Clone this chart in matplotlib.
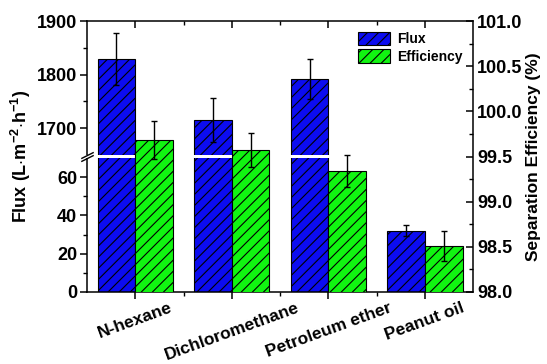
import matplotlib
matplotlib.use("Agg")
import matplotlib.pyplot as plt
import numpy as np
from matplotlib.patches import Rectangle
from matplotlib.ticker import FixedLocator, MultipleLocator, FormatStrFormatter

plt.rcParams['font.family'] = ['Liberation Sans', 'DejaVu Sans']
plt.rcParams['font.weight'] = 'bold'
plt.rcParams['mathtext.fontset'] = 'custom'
plt.rcParams['mathtext.rm'] = 'Liberation Sans:bold'
plt.rcParams['mathtext.bf'] = 'Liberation Sans:bold'
plt.rcParams['hatch.color'] = 'black'
plt.rcParams['hatch.linewidth'] = 0.8

# data
solvents = ["N-hexane", "Dichloromethane", "Petroleum ether", "Peanut oil"]
flux = [1829, 1716, 1792, 32]
flux_err = [48, 41, 38, 3]
efficiency = [99.68, 99.57, 99.34, 98.51]
eff_err = [0.21, 0.19, 0.18, 0.17]

# broken left axis: 0-70 below, 1650-1900 above, squeezed gap between
brk_lo, brk_hi = 70, 1650
_xs = [-1e4, 0, brk_lo, brk_hi, 1900, 1e5]
_ys = [-1e4 * 134 / 70, 0, 134, 137, 271, 271 + (1e5 - 1900) * 0.535]


def fwd(v):
    return np.interp(v, _xs, _ys)


def inv(v):
    return np.interp(v, _ys, _xs)


fig = plt.figure(figsize=(5.47, 3.64), dpi=100)
ax = fig.add_axes([0.159, 0.198, 0.706, 0.744])
ax2 = ax.twinx()

x = np.arange(len(solvents))
w = 0.39
blue = "#0c0cf0"
green = "#11f511"

ax.set_yscale('function', functions=(fwd, inv))
ax.set_ylim(0, 1900)
b1 = ax.bar(x - w / 2, flux, w, color=blue, edgecolor='black', hatch='///',
            linewidth=0.8, label='Flux', zorder=1)
ax.errorbar(x - w / 2, flux, yerr=flux_err, fmt='none', ecolor='black',
            elinewidth=1, capsize=2.5, capthick=1, zorder=2)

# white gap through the flux bars and the left spine
ax.add_patch(Rectangle((-0.02, brk_lo), 1.02, brk_hi - brk_lo, facecolor='white',
                       edgecolor='none', transform=ax.get_yaxis_transform(),
                       clip_on=False, zorder=3))
ax.plot([0, 0], [brk_lo, brk_hi], transform=ax.get_yaxis_transform(), ls='none',
        marker=[(-1, -0.5), (1, 0.5)], markersize=9, markeredgewidth=1,
        color='black', clip_on=False, zorder=4)

ax.yaxis.set_major_locator(FixedLocator([0, 20, 40, 60, 1700, 1800, 1900]))
ax.yaxis.set_minor_locator(FixedLocator([10, 30, 50, 1750, 1850]))
ax.yaxis.set_major_formatter(FormatStrFormatter('%d'))
ax.set_ylabel(r'Flux (L$\cdot$m$^{-2}$$\cdot$h$^{-1}$)', fontsize=13,
              fontweight='bold', labelpad=3)

b2 = ax2.bar(x + w / 2, efficiency, w, color=green, edgecolor='black', hatch='///',
             linewidth=0.8, label='Efficiency', zorder=1)
ax2.errorbar(x + w / 2, efficiency, yerr=eff_err, fmt='none', ecolor='black',
             elinewidth=1, capsize=2.5, capthick=1, zorder=2)
ax2.set_ylim(98.0, 101.0)
ax2.yaxis.set_major_locator(MultipleLocator(0.5))
ax2.yaxis.set_minor_locator(MultipleLocator(0.25))
ax2.yaxis.set_major_formatter(FormatStrFormatter('%.1f'))
ax2.set_ylabel('Separation Efficiency (%)', fontsize=12.5, fontweight='bold',
               labelpad=2)

ax.set_xlim(-0.5, 3.5)
ax.set_xticks(x)
ax.set_xticks([0.5, 1.5, 2.5], minor=True)
ax.set_xticklabels(solvents, rotation=20, ha='center', fontsize=12.5,
                   fontweight='bold')

for s in ax.spines.values():
    s.set_linewidth(1.1)
ax.spines['right'].set_visible(False)
for k in ('left', 'top', 'bottom'):
    ax2.spines[k].set_visible(False)
ax2.spines['right'].set_linewidth(1.1)

ax.tick_params(axis='y', which='major', direction='out', length=5, width=1.1,
               labelsize=13, pad=2)
ax.tick_params(axis='y', which='minor', direction='out', length=3, width=1)
ax.tick_params(axis='x', which='major', direction='out', length=5, width=1.1,
               top=True, pad=1)
ax.tick_params(axis='x', which='minor', direction='out', length=3, width=1,
               top=True)
ax2.tick_params(axis='y', which='major', direction='in', length=5, width=1.1,
                labelsize=13, pad=3)
ax2.tick_params(axis='y', which='minor', direction='in', length=3, width=1)
for t in ax.get_yticklabels() + ax2.get_yticklabels():
    t.set_fontweight('bold')

# top ticks point inward
for tl in ax.xaxis.get_major_ticks() + ax.xaxis.get_minor_ticks():
    tl.tick2line.set_marker(matplotlib.markers.TICKDOWN)

ax2.legend([b1, b2], ['Flux', 'Efficiency'], loc='upper left', frameon=False,
           fontsize=10, handlelength=2.3, handleheight=1.1,
           borderaxespad=0, labelspacing=0.2, handletextpad=0.5,
           bbox_to_anchor=(0.688, 0.98))

fig.savefig("out.png", dpi=100)
